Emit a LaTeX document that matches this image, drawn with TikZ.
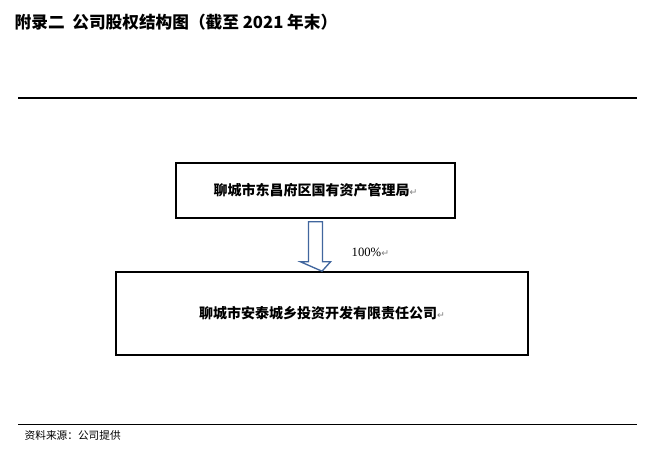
\documentclass[tikz,border=0pt]{standalone}
\usepackage{fontspec}
\setmainfont{Liberation Serif}
\newfontfamily\cjk{Noto Sans CJK SC}
\newfontfamily\sym{DejaVu Sans}
\usetikzlibrary{positioning}
\definecolor{arrowblue}{HTML}{41669E}
\newcommand{\pmark}{{\sym\mdseries\color{gray}\fontsize{7}{7}\selectfont ↵}}

\begin{document}
\begin{tikzpicture}[x=0.75pt,y=-0.75pt,
  box/.style={draw,line width=1.2pt,inner sep=0pt},
  lbl/.style={font=\cjk\bfseries\fontsize{10.5}{12}\selectfont}]
\useasboundingbox (0,0) rectangle (649,457);
\node[anchor=west,font=\cjk\bfseries\fontsize{12.5}{14}\selectfont] (title) at (10,22) {附录二\ \ 公司股权结构图（截至 2021 年末）};
\draw[line width=1.5pt] (18,98) coordinate (t1) -- (637,98) coordinate (t2);

\node[box,minimum width=209.25pt,minimum height=41.25pt] (bur) at (315.5,190.5) {};
\node[lbl] at (bur) {聊城市东昌府区国有资产管理局\pmark};
\node[box,minimum width=309pt,minimum height=62.25pt] (com) at (322,313.5) {};
\node[lbl] at (com) {聊城市安泰城乡投资开发有限责任公司\pmark};

% share arrow
\coordinate (a) at ([yshift=-2.25pt]bur.south);
\draw[arrowblue,line width=1pt,fill=white]
  ([xshift=-5.25pt]a) -- ([xshift=5.25pt]a) -- ([xshift=5.25pt,yshift=-30pt]a)
  -- ([xshift=11.25pt,yshift=-30pt]a) -- (com.north)
  -- ([xshift=-11.25pt,yshift=-30pt]a) -- ([xshift=-5.25pt,yshift=-30pt]a) -- cycle;
\node[anchor=west,font=\fontsize{9.5}{11}\selectfont] (pct) at (347,252) {100\%\pmark};

\draw[line width=0.6pt] (18,424) coordinate (b1) -- (637,424) coordinate (b2);
\node[anchor=west,font=\cjk\fontsize{8}{10}\selectfont] (src) at (20,435) {资料来源：公司提供};
\end{tikzpicture}
\end{document}
